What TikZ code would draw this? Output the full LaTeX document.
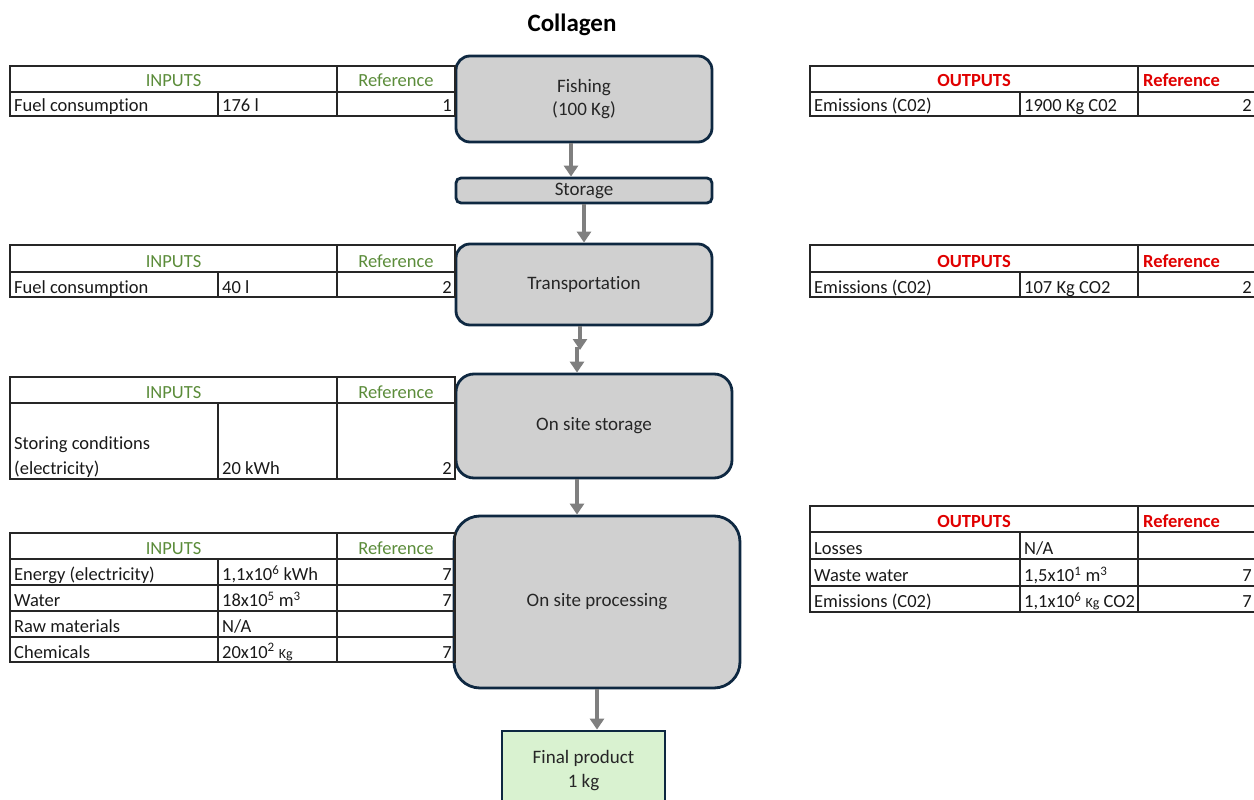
\documentclass[tikz,border=0pt]{standalone}
\usepackage{fontspec}
\setmainfont[Ligatures={NoCommon}]{Carlito}
\usetikzlibrary{arrows.meta}
\definecolor{boxline}{HTML}{0E2841}
\definecolor{boxfill}{HTML}{D0D0D0}
\definecolor{prodfill}{HTML}{D9F2D0}
\definecolor{ingreen}{HTML}{5B8C3A}
\definecolor{outred}{HTML}{E00000}
\definecolor{arrowgray}{HTML}{7F7F7F}
\newcommand\tabfont{\fontsize{18.5}{22}\selectfont}
\newcommand\boxfont{\fontsize{19}{23.5}\selectfont}
\newcommand\unitsmall[1]{{\fontsize{14}{16}\selectfont #1}}

\begin{document}
\begin{tikzpicture}[x=1pt,y=-1pt,
  grid/.style={draw=black!85, line width=1.3pt},
  proc/.style={draw=boxline, fill=boxfill, line width=2.8pt, align=center,
    font=\boxfont, text=black!85, inner sep=0pt},
  arr/.style={draw=arrowgray, line width=4pt, -{Triangle[width=14pt,length=11pt]}},
  cl/.style={anchor=base west, inner sep=0pt, font=\tabfont, text=black!90},
  cr/.style={anchor=base east, inner sep=0pt, font=\tabfont, text=black!90},
  inhead/.style={anchor=base, inner sep=0pt, font=\tabfont, text=ingreen},
  outhead/.style={anchor=base, inner sep=0pt, font=\tabfont\bfseries, text=outred},
]
\useasboundingbox (0,0) rectangle (1254,800);

% title
\node[font=\fontsize{25}{30}\selectfont\bfseries] (title) at (572,25) {Collagen};

% ---------------- process chain ----------------
\node[proc, minimum width=256pt, minimum height=86pt, rounded corners=14pt]
  (fish) at (584,99) {Fishing\\(100 Kg)};
\node[proc, minimum width=256pt, minimum height=25pt, rounded corners=5pt]
  (stor) at (584,190.5) {Storage};
\node[proc, minimum width=256pt, minimum height=81pt, rounded corners=14pt]
  (trans) at (584,284.5) {Transportation};
\node[proc, minimum width=276pt, minimum height=104pt, rounded corners=18pt]
  (oss) at (594,426) {On site storage};
\node[proc, minimum width=286pt, minimum height=172pt, rounded corners=26pt]
  (osp) at (597,602) {On site processing};
\node[proc, fill=prodfill, minimum width=163pt, minimum height=79pt]
  (final) at (583.5,770.5) {Final product\\1 kg};

\draw[arr] ([xshift=-13pt]fish.south) -- ([xshift=-13pt]stor.north);
\draw[arr] (stor.south) -- (trans.north);
\coordinate (m1) at (580,350);
\coordinate (m2) at (577,347);
\draw[arr] ([xshift=-4pt]trans.south) -- (m1);
\draw[arr] (m2) -- (m2 |- oss.north);
\draw[arr] ([xshift=-17pt]oss.south) -- ([xshift=-17pt]oss.south |- osp.north);
\draw[arr] (osp.south) -- (osp.south |- final.north);

% ---------------- inputs: fishing ----------------
\draw[grid] (10,66) rectangle (455,116);
\draw[grid] (10,92) -- (455,92) (337,66) -- (337,116) (218,92) -- (218,116);
\node[inhead] (i1h) at (173.5,87) {INPUTS};
\node[inhead] (i1r) at (396,87) {Reference};
\node[cl] (i1a) at (14,112) {Fuel consumption};
\node[cl] (i1b) at (222,112) {176 l};
\node[cr] (i1c) at (452,112) {1};

% ---------------- outputs: fishing ----------------
\draw[grid] (810,66) rectangle (1256,116);
\draw[grid] (810,92) -- (1256,92) (1138,66) -- (1138,116) (1020,92) -- (1020,116);
\node[outhead] (o1h) at (974,87) {OUTPUTS};
\node[outhead, anchor=base west] (o1r) at (1143,87) {Reference};
\node[cl] (o1a) at (814,112) {Emissions (C02)};
\node[cl] (o1b) at (1024,112) {1900 Kg C02};
\node[cr] (o1c) at (1252,112) {2};

% ---------------- inputs: transportation ----------------
\draw[grid] (10,245) rectangle (455,297);
\draw[grid] (10,272) -- (455,272) (337,245) -- (337,297) (218,272) -- (218,297);
\node[inhead] (i2h) at (173.5,267) {INPUTS};
\node[inhead] (i2r) at (396,267) {Reference};
\node[cl] (i2a) at (14,293) {Fuel consumption};
\node[cl] (i2b) at (222,293) {40 l};
\node[cr] (i2c) at (452,293) {2};

% ---------------- outputs: transportation ----------------
\draw[grid] (810,245) rectangle (1256,297);
\draw[grid] (810,272) -- (1256,272) (1138,245) -- (1138,297) (1020,272) -- (1020,297);
\node[outhead] (o2h) at (974,267) {OUTPUTS};
\node[outhead, anchor=base west] (o2r) at (1143,267) {Reference};
\node[cl] (o2a) at (814,293) {Emissions (C02)};
\node[cl] (o2b) at (1024,293) {107 Kg CO2};
\node[cr] (o2c) at (1252,293) {2};

% ---------------- inputs: on site storage ----------------
\draw[grid] (10,377) rectangle (455,479);
\draw[grid] (10,403) -- (455,403) (337,377) -- (337,479) (218,403) -- (218,479);
\node[inhead] (i3h) at (173.5,398) {INPUTS};
\node[inhead] (i3r) at (396,398) {Reference};
\node[cl] (i3a) at (14,449) {Storing conditions};
\node[cl] (i3a2) at (14,474.5) {(electricity)};
\node[cl] (i3b) at (222,474.5) {20 kWh};
\node[cr] (i3c) at (452,474.5) {2};

% ---------------- inputs: on site processing ----------------
\draw[grid] (10,533) rectangle (455,662);
\draw[grid] (10,559) -- (455,559) (10,585) -- (455,585) (10,611) -- (455,611)
  (10,637) -- (455,637) (337,533) -- (337,662) (218,559) -- (218,662);
\node[inhead] (i4h) at (173.5,554) {INPUTS};
\node[inhead] (i4r) at (396,554) {Reference};
\node[cl] (i4a) at (14,580.5) {Energy (electricity)};
\node[cl] (i4b) at (222,580.5) {1,1x10\textsuperscript{6} kWh};
\node[cr] (i4c) at (452,580.5) {7};
\node[cl] (i4d) at (14,606.5) {Water};
\node[cl] (i4e) at (222,606.5) {18x10\textsuperscript{5} m\textsuperscript{3}};
\node[cr] (i4f) at (452,606.5) {7};
\node[cl] (i4g) at (14,632.5) {Raw materials};
\node[cl] (i4h2) at (222,632.5) {N/A};
\node[cl] (i4i) at (14,658) {Chemicals};
\node[cl] (i4j) at (222,658) {20x10\textsuperscript{2} \unitsmall{Kg}};
\node[cr] (i4k) at (452,658) {7};

% ---------------- outputs: on site processing ----------------
\draw[grid] (810,506) rectangle (1256,612);
\draw[grid] (810,532) -- (1256,532) (810,559) -- (1256,559) (810,586) -- (1256,586)
  (1138,506) -- (1138,612) (1020,532) -- (1020,612);
\node[outhead] (o3h) at (974,527) {OUTPUTS};
\node[outhead, anchor=base west] (o3r) at (1143,527) {Reference};
\node[cl] (o3a) at (814,554.5) {Losses};
\node[cl] (o3b) at (1024,554.5) {N/A};
\node[cl] (o3c) at (814,581.5) {Waste water};
\node[cl] (o3d) at (1024,581.5) {1,5x10\textsuperscript{1} m\textsuperscript{3}};
\node[cr] (o3e) at (1252,581.5) {7};
\node[cl] (o3f) at (814,607.5) {Emissions (C02)};
\node[cl] (o3g) at (1024,607.5) {1,1x10\textsuperscript{6} \unitsmall{Kg} CO2};
\node[cr] (o3k) at (1252,607.5) {7};
\end{tikzpicture}
\end{document}
